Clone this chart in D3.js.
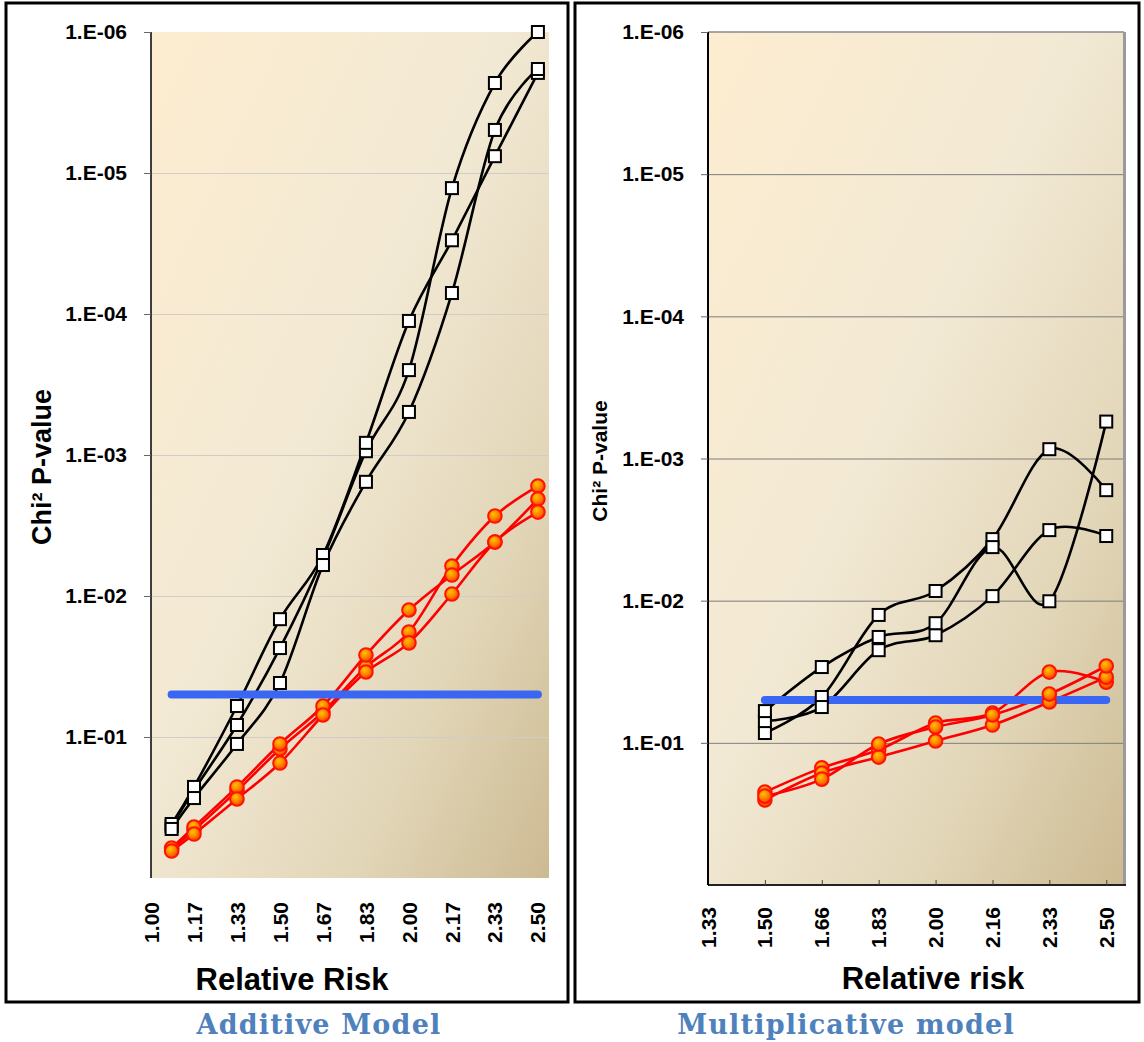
<!DOCTYPE html>
<html>
<head>
<meta charset="utf-8">
<script src="https://cdn.jsdelivr.net/npm/d3@7"></script>
<style>
  html, body { margin: 0; padding: 0; background: #ffffff; }
  svg { display: block; font-family: "Liberation Sans", Arial, sans-serif; }
</style>
</head>
<body>
<script>
// ---- Data: relative risk vs. chi-square p-value ----
const yTickValues = [1e-6, 1e-5, 1e-4, 1e-3, 1e-2, 1e-1];
const yTickLabels = ["1.E-06", "1.E-05", "1.E-04", "1.E-03", "1.E-02", "1.E-01"];

const additiveTickValues = [1.0, 1.1667, 1.3333, 1.5, 1.6667, 1.8333, 2.0, 2.1667, 2.3333, 2.5];
const additiveTickLabels = ["1.00", "1.17", "1.33", "1.50", "1.67", "1.83", "2.00", "2.17", "2.33", "2.50"];
const additiveRR = [1.08, 1.1667, 1.3333, 1.5, 1.6667, 1.8333, 2.0, 2.1667, 2.3333, 2.5];
const additiveBlackA = [0.428, 0.238, 0.0822, 0.0234, 0.00537, 9.4e-4, 2.5e-4, 1.28e-5, 2.3e-6, 1.0e-6];
const additiveBlackB = [0.414, 0.226, 0.0603, 0.0146, 0.00512, 8.2e-4, 1.12e-4, 3.0e-5, 7.6e-6, 1.95e-6];
const additiveBlackC = [0.449, 0.271, 0.112, 0.0414, 0.00603, 1.55e-3, 4.95e-4, 7.1e-5, 4.95e-6, 1.83e-6];
const additiveRedA = [0.623, 0.457, 0.241, 0.1216, 0.0665, 0.0319, 0.0180, 0.00613, 0.00271, 0.00166];
const additiveRedB = [0.613, 0.435, 0.226, 0.112, 0.0603, 0.0262, 0.01257, 0.0071, 0.00414, 0.00205];
const additiveRedC = [0.644, 0.488, 0.275, 0.153, 0.0698, 0.0346, 0.0215, 0.00968, 0.00414, 0.00254];

const multTickValues = [1.3333, 1.5, 1.6667, 1.8333, 2.0, 2.1667, 2.3333, 2.5];
const multTickLabels = ["1.33", "1.50", "1.66", "1.83", "2.00", "2.16", "2.33", "2.50"];
const multRR = [1.5, 1.6667, 1.8333, 2.0, 2.1667, 2.3333, 2.5];
const multBlackA = [0.0853, 0.0476, 0.0126, 0.00855, 0.00369, 8.6e-4, 0.00167];
const multBlackB = [0.0703, 0.0560, 0.0223, 0.0175, 0.00929, 0.00319, 0.00351];
const multBlackC = [0.0598, 0.0293, 0.0180, 0.0144, 0.0042, 0.0101, 5.5e-4];
const multRedA = [0.222, 0.150, 0.112, 0.0726, 0.0617, 0.0318, 0.0374];
const multRedB = [0.252, 0.163, 0.126, 0.0971, 0.0750, 0.0516, 0.0345];
const multRedC = [0.237, 0.180, 0.102, 0.0774, 0.0637, 0.0454, 0.0288];

const significance = 0.05;

// ---- Canvas ----
const svg = d3.select("body").append("svg")
  .attr("width", 1144).attr("height", 1042);

const defs = svg.append("defs");
const bg = defs.append("linearGradient").attr("id", "plotBg")
  .attr("x1", 0).attr("y1", 0).attr("x2", 1).attr("y2", 1);
bg.append("stop").attr("offset", 0).attr("stop-color", "#fdedd0");
bg.append("stop").attr("offset", 0.45).attr("stop-color", "#f2e9d4");
bg.append("stop").attr("offset", 0.75).attr("stop-color", "#e2d6b8");
bg.append("stop").attr("offset", 1).attr("stop-color", "#ccba92");

const ball = defs.append("radialGradient").attr("id", "ball")
  .attr("cx", "40%").attr("cy", "35%").attr("r", "65%");
ball.append("stop").attr("offset", 0).attr("stop-color", "#ffc400");
ball.append("stop").attr("offset", 0.6).attr("stop-color", "#ff7c00");
ball.append("stop").attr("offset", 1).attr("stop-color", "#ff3a00");

// Panel frames
svg.append("rect").attr("x", 6).attr("y", 3).attr("width", 562).attr("height", 999)
  .attr("fill", "none").attr("stroke", "#000").attr("stroke-width", 3);
svg.append("rect").attr("x", 575).attr("y", 3).attr("width", 564).attr("height", 999)
  .attr("fill", "none").attr("stroke", "#000").attr("stroke-width", 3);

function drawPanel(cfg) {
  const g = svg.append("g");
  const x = d3.scaleLinear().domain(cfg.xDomain).range([cfg.left, cfg.right]);
  const y = d3.scaleLog().domain([1, 1e-6]).range([cfg.bottom, cfg.top]);

  // plot background
  g.append("rect")
    .attr("x", cfg.left).attr("y", cfg.top)
    .attr("width", cfg.right - cfg.left).attr("height", cfg.bottom - cfg.top)
    .attr("fill", "url(#plotBg)");

  // horizontal gridlines
  g.append("g")
    .attr("transform", `translate(${cfg.left},0)`)
    .call(d3.axisLeft(y).tickValues(yTickValues.slice(1)).tickSize(-(cfg.right - cfg.left)).tickFormat(""))
    .call(a => a.select(".domain").remove())
    .call(a => a.selectAll("line").attr("stroke", cfg.gridColor).attr("stroke-width", 1));

  // plot border (right-hand panel only)
  if (cfg.frame) {
    g.append("line").attr("x1", cfg.left).attr("x2", cfg.right)
      .attr("y1", cfg.top).attr("y2", cfg.top)
      .attr("stroke", "#8a8a8a").attr("stroke-width", 1.5);
    g.append("line").attr("x1", cfg.right + 0.5).attr("x2", cfg.right + 0.5)
      .attr("y1", cfg.top).attr("y2", cfg.bottom)
      .attr("stroke", "#9a9a9a").attr("stroke-width", 3);
    const xa = g.append("g")
      .attr("transform", `translate(0,${cfg.bottom})`)
      .call(d3.axisBottom(x).tickValues(multRR).tickSize(-5).tickFormat(""));
    xa.select(".domain").attr("stroke", "#222").attr("stroke-width", 2)
      .attr("d", `M${cfg.left},0H${cfg.right + 2}`);
    xa.selectAll(".tick line").attr("stroke", "#444").attr("stroke-width", 1);
  }

  // y axis
  const ya = g.append("g")
    .attr("transform", `translate(${cfg.left},0)`)
    .call(d3.axisLeft(y).tickValues(yTickValues)
      .tickFormat((d, i) => yTickLabels[i]).tickSize(7).tickPadding(17));
  ya.select(".domain").attr("stroke", "#000").attr("stroke-width", cfg.frame ? 2 : 1.5)
    .attr("d", `M0,${cfg.top}V${cfg.bottom}`);
  ya.selectAll(".tick line").attr("stroke", "#666").attr("stroke-width", 1);
  ya.selectAll(".tick text")
    .attr("font-family", "'Liberation Sans', Arial, sans-serif")
    .attr("font-size", 21).attr("font-weight", "bold").attr("fill", "#000");

  // rotated x tick labels
  g.append("g").selectAll("text")
    .data(cfg.xTicks)
    .join("text")
    .attr("transform", d => `translate(${x(d)},${cfg.xLabelTop}) rotate(-90)`)
    .attr("text-anchor", "end").attr("dy", "0.36em")
    .attr("font-size", 21).attr("font-weight", "bold")
    .text((d, i) => cfg.xLabels[i]);

  // axis titles
  g.append("text")
    .attr("x", cfg.xTitleX).attr("y", cfg.xTitleY)
    .attr("text-anchor", "middle").attr("font-size", 31).attr("font-weight", "bold")
    .text(cfg.xTitle);
  g.append("text")
    .attr("transform", `translate(${cfg.yTitleX},${cfg.yTitleY}) rotate(-90)`)
    .attr("text-anchor", "middle").attr("font-size", cfg.yTitleSize).attr("font-weight", "bold")
    .text("Chi² P-value");

  const line = d3.line()
    .x(d => x(d[0])).y(d => y(d[1]))
    .curve(d3.curveCardinal.tension(0));

  const pairs = vals => cfg.rr.map((r, i) => [r, vals[i]]);

  // series lines
  cfg.black.forEach(s => {
    g.append("path").attr("d", line(pairs(s)))
      .attr("fill", "none").attr("stroke", "#000").attr("stroke-width", 2.6);
  });
  cfg.red.forEach(s => {
    g.append("path").attr("d", line(pairs(s)))
      .attr("fill", "none").attr("stroke", "#ff0000").attr("stroke-width", 2.6);
  });

  // significance threshold
  const rrExtent = d3.extent(cfg.rr);
  g.append("path")
    .attr("d", d3.line().x(d => x(d[0])).y(d => y(d[1]))([[rrExtent[0], significance], [rrExtent[1], significance]]))
    .attr("stroke", "#3a66f4").attr("stroke-width", 8).attr("stroke-linecap", "round").attr("fill", "none");

  // markers
  cfg.black.forEach(s => {
    g.append("g").selectAll("rect").data(pairs(s)).join("rect")
      .attr("x", d => x(d[0]) - 6).attr("y", d => y(d[1]) - 6)
      .attr("width", 12).attr("height", 12)
      .attr("fill", "#fff").attr("stroke", "#000").attr("stroke-width", 2);
  });
  cfg.red.forEach(s => {
    g.append("g").selectAll("circle").data(pairs(s)).join("circle")
      .attr("cx", d => x(d[0])).attr("cy", d => y(d[1])).attr("r", 6.8)
      .attr("fill", "url(#ball)").attr("stroke", "#ff1200").attr("stroke-width", 2);
  });
}

drawPanel({
  left: 151, right: 549, top: 32, bottom: 878,
  xDomain: [1.0, 2.543],
  xTicks: additiveTickValues, xLabels: additiveTickLabels, xLabelTop: 902,
  rr: additiveRR,
  black: [additiveBlackA, additiveBlackB, additiveBlackC],
  red: [additiveRedA, additiveRedB, additiveRedC],
  gridColor: "#d0cdc6", frame: false,
  xTitle: "Relative Risk", xTitleX: 292, xTitleY: 990,
  yTitleX: 51, yTitleY: 467, yTitleSize: 27
});

drawPanel({
  left: 708, right: 1124, top: 32, bottom: 885,
  xDomain: [1.3333, 2.552],
  xTicks: multTickValues, xLabels: multTickLabels, xLabelTop: 907,
  rr: multRR,
  black: [multBlackA, multBlackB, multBlackC],
  red: [multRedA, multRedB, multRedC],
  gridColor: "#7d7d7d", frame: true,
  xTitle: "Relative risk", xTitleX: 933, xTitleY: 989,
  yTitleX: 607, yTitleY: 461, yTitleSize: 21
});

// model captions
const captions = [
  { text: "Additive Model", x: 319 },
  { text: "Multiplicative model", x: 846 }
];
svg.append("g").selectAll("text").data(captions).join("text")
  .attr("x", d => d.x).attr("y", 1034)
  .attr("text-anchor", "middle")
  .style("font-family", "'DejaVu Serif', serif")
  .attr("font-size", 27).attr("font-weight", "bold")
  .attr("letter-spacing", 1.2)
  .attr("fill", "#4f81bd")
  .text(d => d.text);
</script>
</body>
</html>
